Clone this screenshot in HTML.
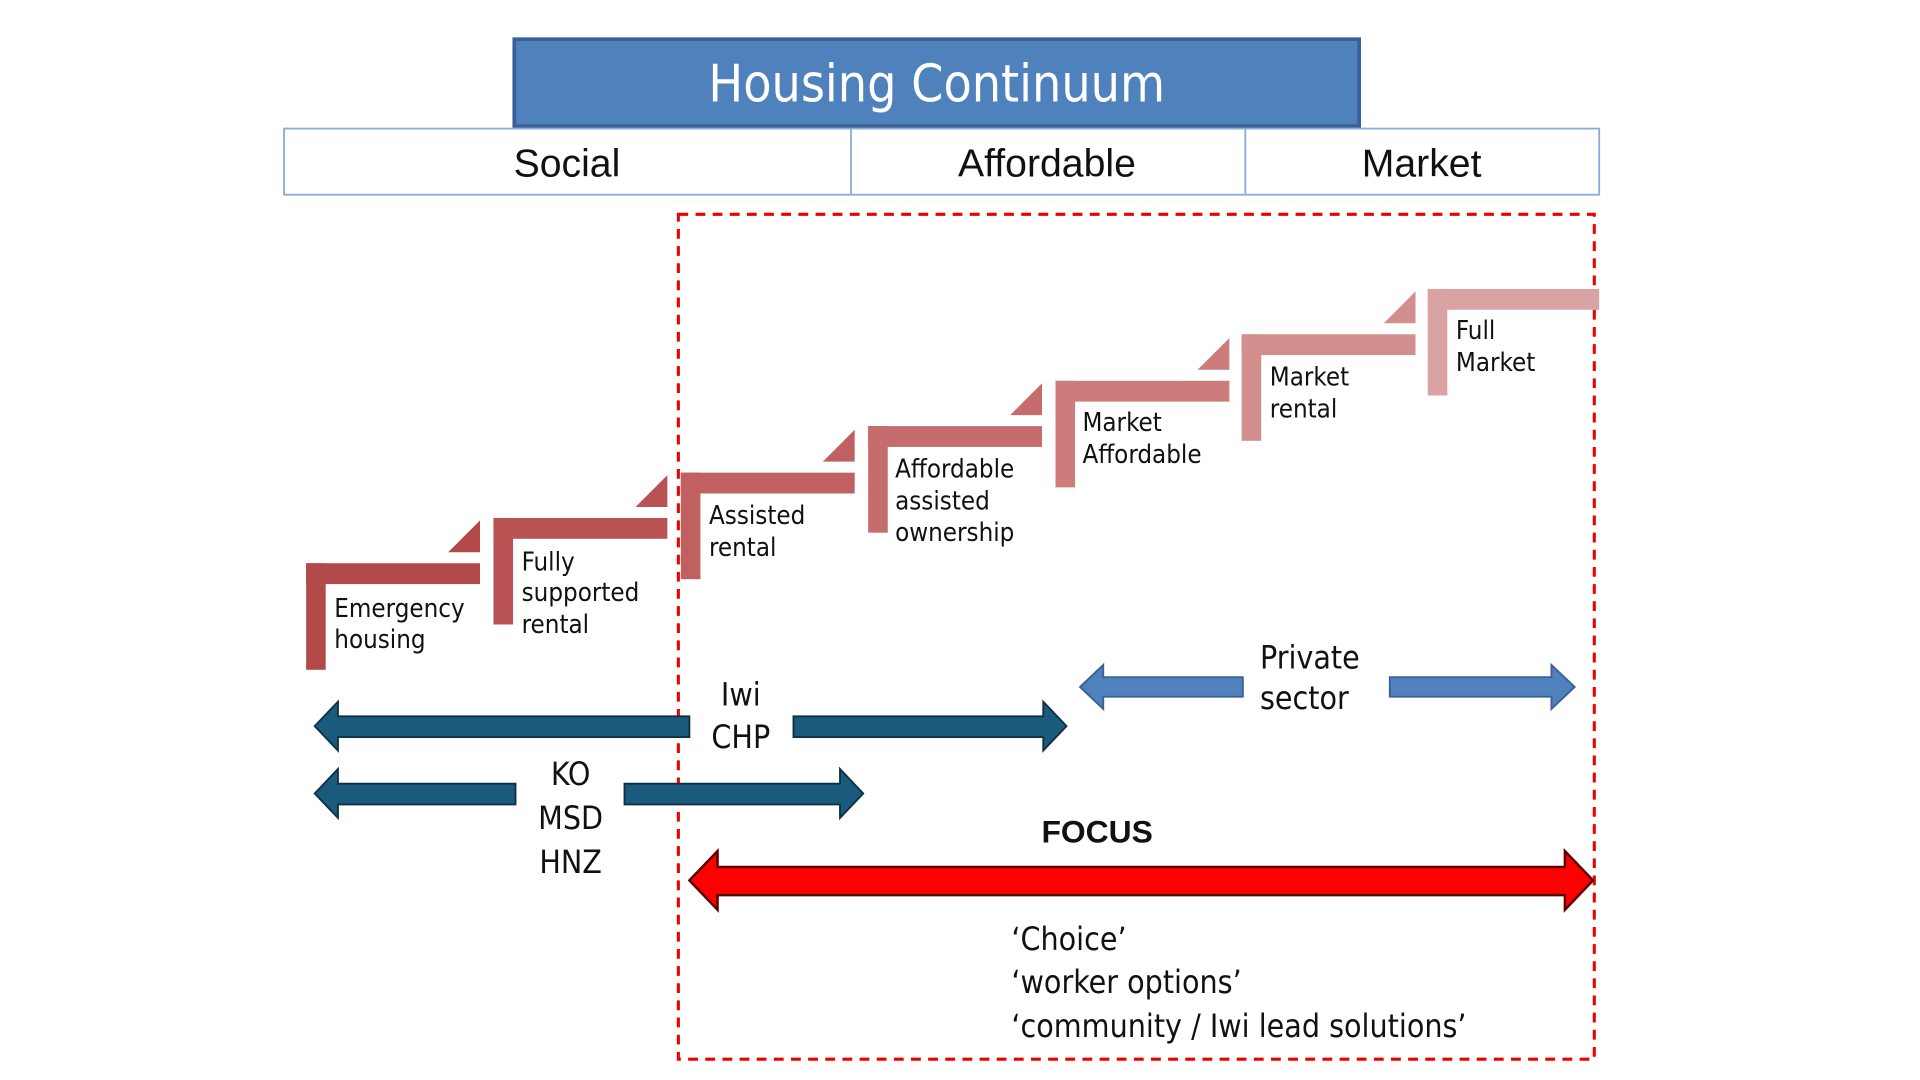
<!DOCTYPE html>
<html><head><style>html,body{margin:0;padding:0;background:#fff;width:1920px;height:1080px;overflow:hidden}</style></head>
<body>
<svg width="1920" height="1080" viewBox="0 0 1568 882" preserveAspectRatio="none" xmlns="http://www.w3.org/2000/svg" font-family="'Liberation Sans', sans-serif">
<rect x="420" y="32" width="690" height="71" fill="#4f81bd" stroke="#3a6096" stroke-width="3"/>
<text x="765" y="83" font-size="42" fill="#fff" text-anchor="middle" font-family="'DejaVu Sans Condensed','Liberation Sans',sans-serif">Housing Continuum</text>
<rect x="232" y="105" width="1074" height="54" fill="#fff" stroke="#8eaadb" stroke-width="1.5"/>
<line x1="695" y1="105" x2="695" y2="159" stroke="#8eaadb" stroke-width="1.5"/>
<line x1="1017" y1="105" x2="1017" y2="159" stroke="#8eaadb" stroke-width="1.5"/>
<g font-size="32" text-anchor="middle" fill="#111">
<text x="463" y="144">Social</text><text x="855" y="144">Affordable</text><text x="1161" y="144">Market</text></g>
<rect x="554" y="175" width="748" height="690" fill="none" stroke="#e00" stroke-width="2.5" stroke-dasharray="8,6"/>
<g font-size="21" fill="#111" font-family="'DejaVu Sans Condensed','Liberation Sans',sans-serif">
<g fill="#b24a4a"><rect x="250" y="460" width="16" height="87"/><rect x="250" y="460" width="142" height="17"/><polygon points="366,451 392,425 392,451"/></g>
<text x="273" y="504">Emergency</text><text x="273" y="529">housing</text>
<g fill="#b95252"><rect x="403" y="423" width="16" height="87"/><rect x="403" y="423" width="142" height="17"/><polygon points="519,414 545,388 545,414"/></g>
<text x="426" y="466">Fully</text><text x="426" y="491">supported</text><text x="426" y="517">rental</text>
<g fill="#c06060"><rect x="556" y="386" width="16" height="87"/><rect x="556" y="386" width="142" height="17"/><polygon points="672,377 698,351 698,377"/></g>
<text x="579" y="428">Assisted</text><text x="579" y="454">rental</text>
<g fill="#c76c6c"><rect x="709" y="348" width="16" height="87"/><rect x="709" y="348" width="142" height="17"/><polygon points="825,339 851,313 851,339"/></g>
<text x="731" y="390">Affordable</text><text x="731" y="416">assisted</text><text x="731" y="442">ownership</text>
<g fill="#cd7c7c"><rect x="862" y="311" width="16" height="87"/><rect x="862" y="311" width="142" height="17"/><polygon points="978,302 1004,276 1004,302"/></g>
<text x="884" y="352">Market</text><text x="884" y="378">Affordable</text>
<g fill="#d38e8e"><rect x="1014" y="273" width="16" height="87"/><rect x="1014" y="273" width="142" height="17"/><polygon points="1130,264 1156,238 1156,264"/></g>
<text x="1037" y="315">Market</text><text x="1037" y="341">rental</text>
<g fill="#d9a3a3"><rect x="1166" y="236" width="16" height="87"/><rect x="1166" y="236" width="140" height="17"/></g>
<text x="1189" y="277">Full</text><text x="1189" y="303">Market</text>
</g>
<g fill="#4f81bd" stroke="#3a6096" stroke-width="1.5">
<polygon points="882,561 901,543 901,553 1015,553 1015,569 901,569 901,579"/>
<polygon points="1286,561 1267,543 1267,553 1135,553 1135,569 1267,569 1267,579"/>
</g>
<g font-size="26" fill="#111" font-family="'DejaVu Sans Condensed','Liberation Sans',sans-serif">
<text x="1029" y="546">Private</text><text x="1029" y="579">sector</text>
<text x="605" y="576" text-anchor="middle">Iwi</text><text x="605" y="611" text-anchor="middle">CHP</text>
<text x="466" y="641" text-anchor="middle">KO</text><text x="466" y="677" text-anchor="middle">MSD</text><text x="466" y="713" text-anchor="middle">HNZ</text>
<text x="896" y="688" text-anchor="middle" font-weight="bold" font-family="'Liberation Sans',sans-serif">FOCUS</text>
<text x="826" y="776">‘Choice’</text><text x="826" y="811">‘worker options’</text><text x="826" y="847">‘community / Iwi lead solutions’</text>
</g>
<g fill="#1a5a7c" stroke="#0e2f44" stroke-width="1.5">
<polygon points="257,593 276,573 276,585 563,585 563,602 276,602 276,613"/>
<polygon points="871,593 852,573 852,585 648,585 648,602 852,602 852,613"/>
<polygon points="257,648 276,628 276,640 421,640 421,657 276,657 276,668"/>
<polygon points="705,648 686,628 686,640 510,640 510,657 686,657 686,668"/>
</g>
<polygon points="563,719 586,695 586,708 1278,708 1278,695 1301,719 1278,743 1278,731 586,731 586,743" fill="#ff0000" stroke="#5a0000" stroke-width="2"/>
</svg>
</body></html>
